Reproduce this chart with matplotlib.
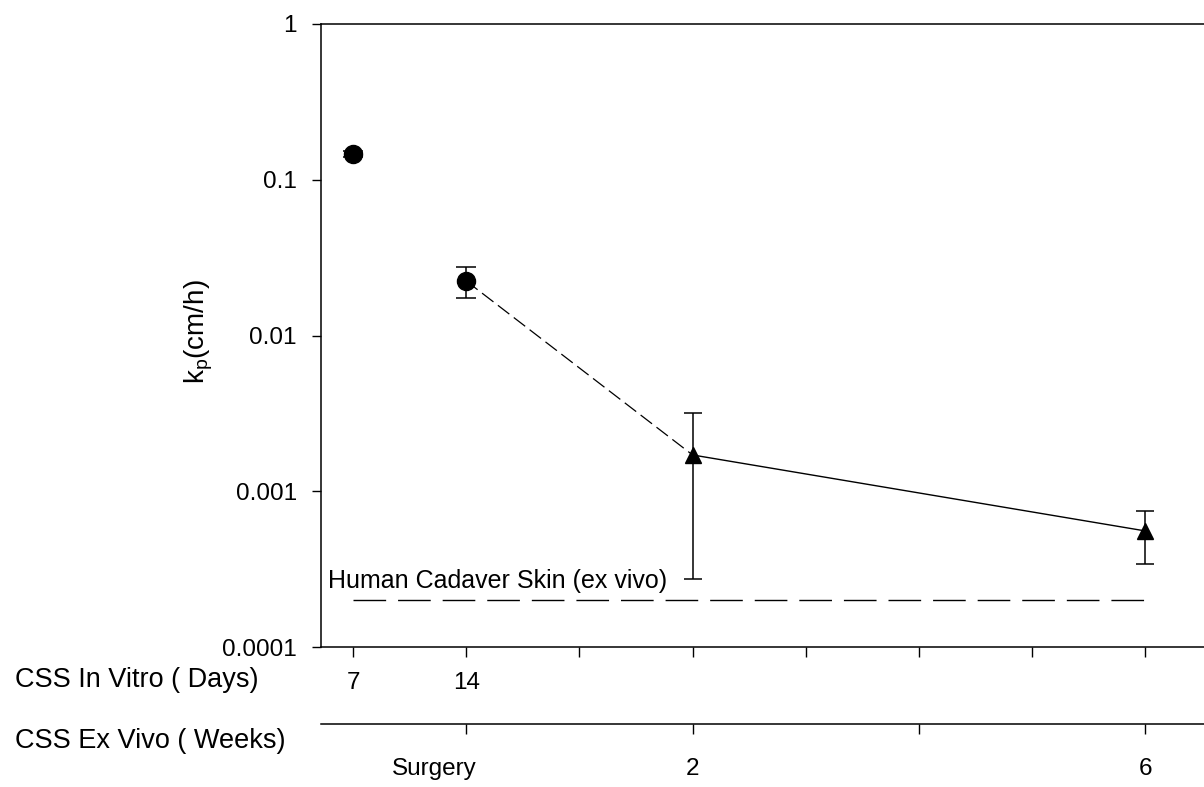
import matplotlib
matplotlib.use("Agg")
import matplotlib.pyplot as plt
import matplotlib.transforms as mtransforms

plt.rcParams['font.family'] = ['Liberation Sans', 'DejaVu Sans']

# ---- data ----
circle_x = [1, 2]
circle_y = [0.146, 0.0224]
circle_lo = [0.139, 0.0174]
circle_hi = [0.153, 0.0275]

tri_x = [4, 8]
tri_y = [0.00171, 0.000556]
tri_lo = [0.000273, 0.000341]
tri_hi = [0.00318, 0.000747]

cadaver_x = [1, 8]
cadaver_y = [0.0002, 0.0002]
cadaver_label = "Human Cadaver Skin (ex vivo)"

days_ticks = [1, 2, 3, 4, 5, 6, 7, 8]
days_labels = ["7", "14", "", "", "", "", "", ""]
weeks_ticks = [2, 4, 6, 8]
weeks_labels = ["Surgery", "2", "", "6"]

yticks = [1e-4, 1e-3, 1e-2, 1e-1, 1]
ytick_labels = ["0.0001", "0.001", "0.01", "0.1", "1"]

FS = 17.5
FS_ROW = 19.5
FS_YLAB = 20

W, H = 1204, 787
fig = plt.figure(figsize=(W / 100, H / 100), dpi=100)
left, right, top, bottom = 321, 1204, 24, 647
ax = fig.add_axes([left / W, (H - bottom) / H, (right - left) / W, (bottom - top) / H])

ax.set_yscale('log')
ax.set_ylim(1e-4, 1)
x0 = 1 - 32 / 113.2
x1 = 1 + (1204 - 353) / 113.2
ax.set_xlim(x0, x1)

# error bars + markers
ax.errorbar(circle_x, circle_y,
            yerr=[[c - l for c, l in zip(circle_y, circle_lo)],
                  [h - c for c, h in zip(circle_y, circle_hi)]],
            fmt='o', color='black', ms=13, capsize=7.3, elinewidth=1.1,
            capthick=1.1, zorder=3)
ax.errorbar(tri_x, tri_y,
            yerr=[[c - l for c, l in zip(tri_y, tri_lo)],
                  [h - c for c, h in zip(tri_y, tri_hi)]],
            fmt='^', color='black', ms=12, capsize=6.8, elinewidth=1.1,
            capthick=1.1, zorder=3)

# connecting lines
ax.plot([circle_x[1], tri_x[0]], [circle_y[1], tri_y[0]], color='black',
        lw=0.9, dashes=(11.5, 4.5), zorder=2)
ax.plot(tri_x, tri_y, color='black', lw=1.0, zorder=2)

# cadaver reference
ax.plot(cadaver_x, cadaver_y, color='black', lw=1.0, dashes=(23.5, 8.6))
ax.text(0.008, 2.4e-4, cadaver_label,
        transform=mtransforms.blended_transform_factory(ax.transAxes, ax.transData),
        fontsize=FS + 0.5, va='baseline', ha='left')

# spines
ax.spines['right'].set_visible(False)
for s in ['left', 'top', 'bottom']:
    ax.spines[s].set_linewidth(1.1)

# y axis
ax.set_yticks(yticks)
ax.set_yticklabels(ytick_labels, fontsize=FS)
ax.yaxis.set_minor_locator(matplotlib.ticker.NullLocator())
ax.tick_params(axis='y', direction='out', length=6.5, width=1.0, pad=11)
ax.set_ylabel(r'k$_\mathregular{p}$(cm/h)', fontsize=FS_YLAB)
ax.yaxis.set_label_coords(-0.12, 0.507)

# x axis row 1 (days)
ax.set_xticks(days_ticks)
ax.set_xticklabels(days_labels, fontsize=FS)
ax.tick_params(axis='x', direction='out', length=7, width=1.0, pad=11)

# x axis row 2 (weeks)
sec = ax.secondary_xaxis(-(724 - 647) / (bottom - top))
sec.set_xticks(weeks_ticks)
sec.set_xticklabels([""] * len(weeks_ticks))
sec.tick_params(axis='x', direction='out', length=7, width=1.0)
sec.spines['bottom'].set_linewidth(1.1)

trans = mtransforms.blended_transform_factory(ax.transData, ax.transAxes)
for xv, lab in zip(weeks_ticks, weeks_labels):
    if not lab:
        continue
    dx = -32 / 100 if lab == "Surgery" else 0
    off = mtransforms.ScaledTranslation(dx, 0, fig.dpi_scale_trans)
    ax.text(xv, -(769 - 647) / (bottom - top), lab, transform=trans + off,
            fontsize=FS, ha='center', va='center')

fig.text(15 / W, 1 - 680 / H, "CSS In Vitro ( Days)", fontsize=FS_ROW, ha='left', va='center')
fig.text(15 / W, 1 - 741 / H, "CSS Ex Vivo ( Weeks)", fontsize=FS_ROW, ha='left', va='center')

fig.savefig("out.png", dpi=100)
